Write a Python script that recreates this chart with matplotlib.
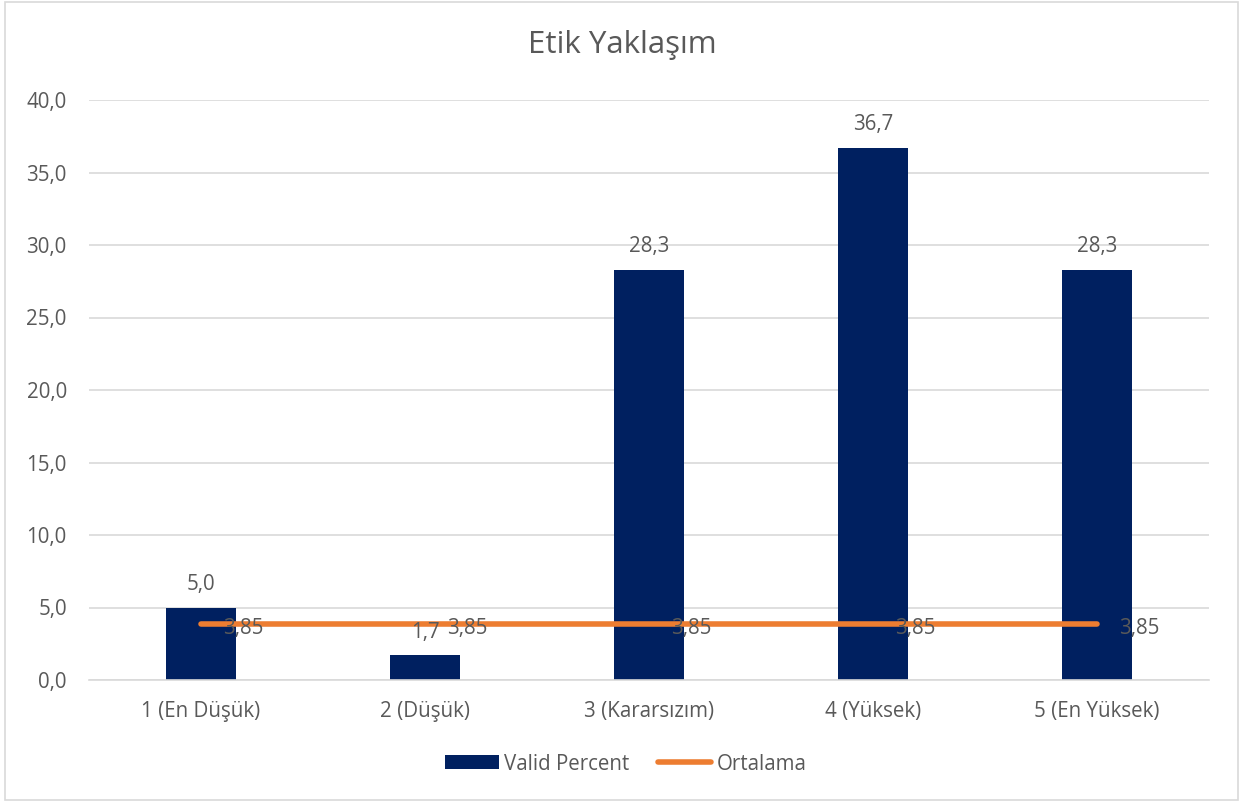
import matplotlib.pyplot as plt
from matplotlib.patches import Rectangle

plt.rcParams['font.family'] = ['Open Sans', 'DejaVu Sans']

categories = ["1 (En Düşük)", "2 (Düşük)", "3 (Kararsızım)", "4 (Yüksek)", "5 (En Yüksek)"]
valid_percent = [5.0, 1.7, 28.3, 36.7, 28.3]
ortalama = [3.85, 3.85, 3.85, 3.85, 3.85]
y_ticks = [0, 5, 10, 15, 20, 25, 30, 35, 40]

TEXT = '#595959'
NAVY = '#002060'
ORANGE = '#ED7D31'
GRID = '#D9D9D9'
FS = 14.8

def fmt(v, d=1):
    return f"{v:.{d}f}".replace('.', ',')

fig = plt.figure(figsize=(12.44, 8.02), dpi=100)
fig.patches.append(Rectangle((0.004, 0.002), 0.991, 0.995, transform=fig.transFigure,
                             fill=False, edgecolor=GRID, linewidth=1.2))

ax = fig.add_axes([89 / 1244, 1 - 680 / 802, 1120 / 1244, 580 / 802])
x = list(range(len(categories)))

bars = ax.bar(x, valid_percent, width=0.3125, color=NAVY, zorder=2, label='Valid Percent')
line, = ax.plot(x, ortalama, color=ORANGE, linewidth=4, solid_capstyle='round',
                zorder=3, label='Ortalama')

for xi, v in zip(x, valid_percent):
    ax.annotate(fmt(v), (xi, v), xytext=(0, 9), textcoords='offset points',
                ha='center', va='bottom', fontsize=FS, color=TEXT, zorder=4)
for xi, v in zip(x, ortalama):
    ax.annotate(fmt(v, 2), (xi, v), xytext=(16, -3), textcoords='offset points',
                ha='left', va='center', fontsize=FS, color=TEXT, zorder=4)

ax.set_xlim(-0.5, len(categories) - 0.5)
ax.set_ylim(0, 40)
ax.set_yticks(y_ticks)
ax.set_yticklabels([fmt(t) for t in y_ticks])
ax.set_xticks(x)
ax.set_xticklabels(categories)
ax.tick_params(axis='both', length=0, labelsize=FS, labelcolor=TEXT)
ax.tick_params(axis='y', pad=16)
ax.tick_params(axis='x', pad=15)
ax.grid(axis='y', color=GRID, linewidth=1.2, zorder=0)
ax.set_axisbelow(True)
for s in ['top', 'right', 'left']:
    ax.spines[s].set_visible(False)
ax.spines['bottom'].set_color(GRID)
ax.spines['bottom'].set_linewidth(1.2)

fig.text(0.5, 1 - 45 / 802, 'Etik Yaklaşım', ha='center', va='center', fontsize=22.5, color=TEXT)

fig.legend(handles=[bars, line], loc='center', bbox_to_anchor=(0.503, 1 - 764 / 802),
           ncol=2, frameon=False, fontsize=FS, labelcolor=TEXT,
           handlelength=2.6, handleheight=0.65, handletextpad=0.25, columnspacing=1.4)

fig.savefig('out.png', dpi=100)
